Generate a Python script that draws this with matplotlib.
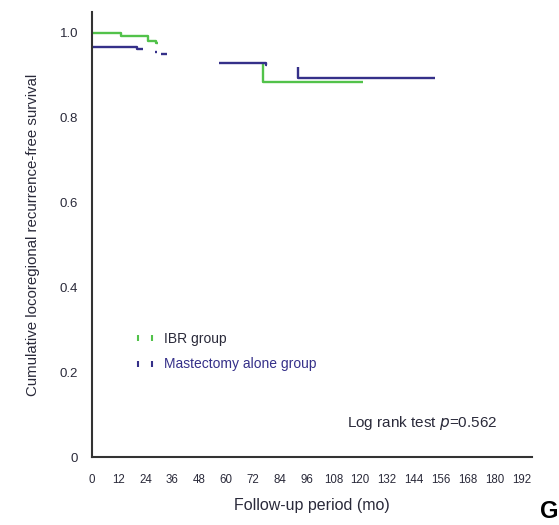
import numpy as np
import matplotlib
matplotlib.use("Agg")
import matplotlib.pyplot as plt
from matplotlib.lines import Line2D

nan = np.nan

# IBR group (visible step segments; NaN = gap)
ibr_time = [0, 13, 25, 28.6, 29.4, nan, 76.5, 76.5, 121]
ibr_surv = [1.0, 0.993, 0.982, 0.976, 0.976, nan, 0.929, 0.885, 0.885]

# Mastectomy alone group
mast_time = [0, 20, 22.8, nan, 28.2, 29.0, nan, 30.9, 33.5, nan, 56.8, 77.8, 78.4, nan, 92.1, 92.1, 153.4]
mast_surv = [0.968, 0.962, 0.962, nan, 0.955, 0.955, nan, 0.950, 0.950, nan, 0.929, 0.925, 0.925, nan, 0.920, 0.893, 0.893]

x_ticks = [0, 12, 24, 36, 48, 60, 72, 84, 96, 108, 120, 132, 144, 156, 168, 180, 192]
x_tick_marks = [12, 24, 84, 96, 156, 168, 180]
y_ticks = [0, 0.2, 0.4, 0.6, 0.8, 1.0]
y_tick_labels = ["0", "0.2", "0.4", "0.6", "0.8", "1.0"]
y_tick_marks = [0.2, 0.4, 0.8]

green = "#52c24a"
blue = "#353089"
txt = "#2a2a3a"

plt.rcParams['font.family'] = ['Liberation Sans', 'DejaVu Sans']

fig = plt.figure(figsize=(5.59, 5.25), dpi=100)
ax = fig.add_axes([92/559, 1 - 457/525, (532-92)/559, (457-12)/525])

ax.plot(ibr_time, ibr_surv, drawstyle='steps-post', color=green, lw=1.7, solid_capstyle='butt')
ax.plot(mast_time, mast_surv, drawstyle='steps-post', color=blue, lw=1.7, solid_capstyle='butt')

ax.set_xlim(0, 196.8)
ax.set_ylim(0, 1.0495)

for s in ['top', 'right']:
    ax.spines[s].set_visible(False)
for s in ['left', 'bottom']:
    ax.spines[s].set_linewidth(1.5)
    ax.spines[s].set_color('#333333')

ax.set_xticks(x_ticks)
ax.set_xticklabels([str(v) for v in x_ticks], fontsize=8.3, color=txt)
ax.set_yticks(y_ticks)
ax.set_yticklabels(y_tick_labels, fontsize=9.5, color=txt)
ax.tick_params(axis='both', which='major', length=0)
ax.tick_params(axis='x', which='major', pad=12)
ax.tick_params(axis='y', which='major', pad=10)
ax.set_xticks(x_tick_marks, minor=True)
ax.set_yticks(y_tick_marks, minor=True)
ax.tick_params(axis='both', which='minor', direction='in', length=5, width=1.3, color='#333333')

ax.set_xlabel("Follow-up period (mo)", fontsize=11.5, color=txt, labelpad=9)
ax.set_ylabel("Cumulative locoregional recurrence-free survival", fontsize=10.8, color=txt, labelpad=14)

handles = [Line2D([0], [0], ls='none', marker='|', markersize=5, markeredgewidth=1.5, color=green),
           Line2D([0], [0], ls='none', marker='|', markersize=5, markeredgewidth=1.5, color=blue)]
ax.legend(handles, ["IBR group", "Mastectomy alone group"], numpoints=2, frameon=False,
          loc='center left', bbox_to_anchor=((134-92)/440, (457-351.5)/445), fontsize=10,
          handlelength=1.6, handletextpad=0.55, labelspacing=0.85, borderpad=0, borderaxespad=0,
          labelcolor=[txt, blue])

ax.text((497-92)/440*196.8, (457-423)/424, "Log rank test $p$=0.562", ha='right', va='center',
        fontsize=11, color=txt)

fig.text(540/559, 2/525, "G", fontsize=17, fontweight='bold', ha='left', va='bottom', color='black')

fig.savefig("out.png", dpi=100)
